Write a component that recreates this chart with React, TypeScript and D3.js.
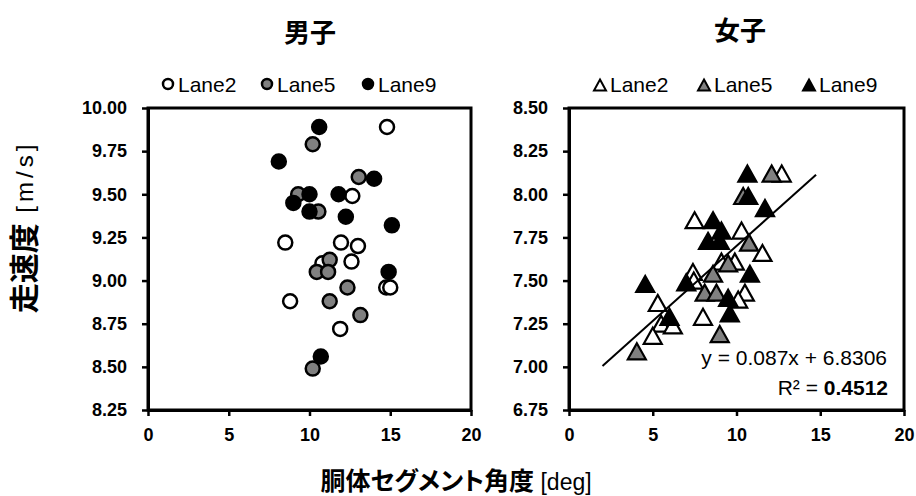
import React, { useEffect, useRef } from "react";
import * as d3 from "d3";

const FONT = "'Liberation Sans', Arial, 'Noto Sans CJK JP', sans-serif";

const xTicks = [0, 5, 10, 15, 20];
const menYTicks = [8.25, 8.5, 8.75, 9.0, 9.25, 9.5, 9.75, 10.0];
const womenYTicks = [6.75, 7.0, 7.25, 7.5, 7.75, 8.0, 8.25, 8.5];
const lanes = ["Lane2", "Lane5", "Lane9"];
const laneFill = ["#ffffff", "#808080", "#000000"];

// [angle deg, speed m/s]
const menLane2 = [
  [14.8, 9.89], [12.65, 9.49], [8.5, 9.22], [11.95, 9.22], [13.0, 9.2], [12.6, 9.11],
  [10.8, 9.1], [14.75, 8.96], [15.0, 8.96], [8.8, 8.88], [11.9, 8.72],
];
const menLane5 = [
  [10.2, 9.79], [13.05, 9.6], [9.3, 9.5], [10.55, 9.4], [11.25, 9.12], [10.45, 9.05],
  [11.15, 9.05], [12.35, 8.96], [11.25, 8.88], [13.15, 8.8], [10.2, 8.49],
];
const menLane9 = [
  [10.6, 9.89], [8.1, 9.69], [14.0, 9.59], [10.0, 9.5], [11.8, 9.5], [9.0, 9.45],
  [10.0, 9.4], [12.25, 9.37], [15.1, 9.32], [14.9, 9.05], [10.7, 8.56],
];

const womenLane2 = [
  [12.7, 8.12], [7.5, 7.85], [10.3, 7.79], [11.55, 7.66], [9.1, 7.61], [9.9, 7.61],
  [7.4, 7.55], [7.45, 7.5], [10.5, 7.43], [10.1, 7.39], [5.3, 7.37], [8.0, 7.29],
  [5.5, 7.25], [6.2, 7.24], [5.0, 7.18],
];
const womenLane5 = [
  [12.1, 8.12], [10.4, 7.99], [10.75, 7.72], [9.5, 7.6], [8.6, 7.54], [8.1, 7.43],
  [8.8, 7.43], [9.0, 7.19], [4.05, 7.09],
];
const womenLane9 = [
  [10.65, 8.12], [10.7, 7.99], [11.7, 7.92], [8.6, 7.85], [9.1, 7.79], [8.3, 7.73],
  [9.0, 7.73], [10.8, 7.54], [4.55, 7.48], [7.0, 7.49], [9.5, 7.4], [9.6, 7.31], [6.0, 7.29],
];

const trendSlope = 0.087;
const trendIntercept = 6.8306;
const trendFrom = 2.0;
const trendTo = 14.75;
const trendR2 = "0.4512";

const triPath = (w: number, h: number) =>
  `M0,${-h / 2}L${w / 2},${h / 2}L${-w / 2},${h / 2}Z`;

function App() {
  const ref = useRef<SVGSVGElement>(null);

  useEffect(() => {
    const svg = d3.select(ref.current);
    svg.selectAll("*").remove();
    svg.style("font-family", FONT);

    const top = 108;
    const bottom = 410;

    const panel = (
      left: number,
      right: number,
      yTicks: number[],
      series: number[][][],
      shape: "circle" | "triangle"
    ) => {
      const x = d3.scaleLinear().domain([0, 20]).range([left, right]);
      const y = d3
        .scaleLinear()
        .domain([yTicks[0], yTicks[yTicks.length - 1]])
        .range([bottom, top]);

      const xa = svg
        .append("g")
        .attr("transform", `translate(0,${bottom})`)
        .call(
          d3.axisBottom(x).tickValues(xTicks).tickSize(6).tickSizeOuter(0).tickPadding(12)
            .tickFormat(d3.format("d"))
        );
      const ya = svg
        .append("g")
        .attr("transform", `translate(${left},0)`)
        .call(
          d3.axisLeft(y).tickValues(yTicks).tickSize(6).tickSizeOuter(0).tickPadding(15)
            .tickFormat(d3.format(".2f"))
        );
      [xa, ya].forEach((a) => {
        a.select("path.domain").attr("stroke", "#000").attr("stroke-width", 3);
        a.selectAll(".tick line").attr("stroke", "#000").attr("stroke-width", 2.5);
        a.selectAll(".tick text")
          .attr("fill", "#000")
          .style("font-family", FONT)
          .style("font-size", "18px")
          .style("font-weight", "bold");
      });

      svg
        .append("rect")
        .attr("x", left)
        .attr("y", top)
        .attr("width", right - left)
        .attr("height", bottom - top)
        .attr("fill", "none")
        .attr("stroke", "#000")
        .attr("stroke-width", 3);

      series.forEach((pts, i) => {
        const g = svg.append("g");
        if (shape === "circle") {
          g.selectAll("circle")
            .data(pts)
            .join("circle")
            .attr("cx", (d) => x(d[0]))
            .attr("cy", (d) => y(d[1]))
            .attr("r", 7)
            .attr("fill", laneFill[i])
            .attr("stroke", "#000")
            .attr("stroke-width", 2.5);
        } else {
          g.selectAll("path")
            .data(pts)
            .join("path")
            .attr("d", triPath(18, 16))
            .attr("transform", (d) => `translate(${x(d[0])},${y(d[1])})`)
            .attr("fill", laneFill[i])
            .attr("stroke", "#000")
            .attr("stroke-width", 2.2)
            .attr("stroke-linejoin", "miter");
        }
      });
      return { x, y };
    };

    panel(148, 471, menYTicks, [menLane2, menLane5, menLane9], "circle");
    const w = panel(569, 904, womenYTicks, [womenLane2, womenLane5, womenLane9], "triangle");

    // trendline (women)
    svg
      .append("line")
      .attr("x1", w.x(trendFrom))
      .attr("y1", w.y(trendSlope * trendFrom + trendIntercept))
      .attr("x2", w.x(trendTo))
      .attr("y2", w.y(trendSlope * trendTo + trendIntercept))
      .attr("stroke", "#000")
      .attr("stroke-width", 2);

    svg
      .append("text")
      .attr("x", 887)
      .attr("y", 365)
      .attr("text-anchor", "end")
      .style("font-size", "21px")
      .text(`y = ${trendSlope}x + ${trendIntercept}`);
    const r2 = svg
      .append("text")
      .attr("x", 888)
      .attr("y", 395)
      .attr("text-anchor", "end")
      .style("font-size", "21px");
    r2.append("tspan").text("R² = ");
    r2.append("tspan").style("font-weight", "bold").text(trendR2);

    // legends
    const menLegX = [168, 267, 368];
    lanes.forEach((name, i) => {
      svg
        .append("circle")
        .attr("cx", menLegX[i])
        .attr("cy", 84)
        .attr("r", 5)
        .attr("fill", laneFill[i])
        .attr("stroke", "#000")
        .attr("stroke-width", 2.5);
      svg
        .append("text")
        .attr("x", menLegX[i] + 10)
        .attr("y", 92)
        .style("font-size", "21px")
        .text(name);
    });
    const womenLegX = [600, 704, 809];
    lanes.forEach((name, i) => {
      svg
        .append("path")
        .attr("d", triPath(12, 11))
        .attr("transform", `translate(${womenLegX[i]},85)`)
        .attr("fill", laneFill[i])
        .attr("stroke", "#000")
        .attr("stroke-width", 2);
      svg
        .append("text")
        .attr("x", womenLegX[i] + 10)
        .attr("y", 92)
        .style("font-size", "21px")
        .text(name);
    });

    // titles
    svg.append("text").attr("x", 310).attr("y", 42).attr("text-anchor", "middle")
      .style("font-size", "26px").style("font-weight", "bold").text("男子");
    svg.append("text").attr("x", 740).attr("y", 40).attr("text-anchor", "middle")
      .style("font-size", "26px").style("font-weight", "bold").text("女子");

    const yt = svg
      .append("text")
      .attr("transform", "translate(24,227) rotate(-90)")
      .attr("text-anchor", "middle")
      .attr("dominant-baseline", "central");
    yt.append("tspan").style("font-size", "30px").style("font-weight", "bold").text("走速度");
    yt.append("tspan").style("font-size", "24px").style("letter-spacing", "4px").text(" [m/s]");

    const xt = svg
      .append("text")
      .attr("x", 456)
      .attr("y", 490)
      .attr("text-anchor", "middle")
      .style("font-feature-settings", "'palt'");
    xt.append("tspan").style("font-size", "25px").style("font-weight", "bold").text("胴体セグメント角度");
    xt.append("tspan").style("font-size", "23px").text(" [deg]");
  }, []);

  return (
    <svg
      ref={ref}
      width={916}
      height={496}
      style={{ position: "absolute", left: 0, top: 0, background: "#fff" }}
    />
  );
}

export default App;
